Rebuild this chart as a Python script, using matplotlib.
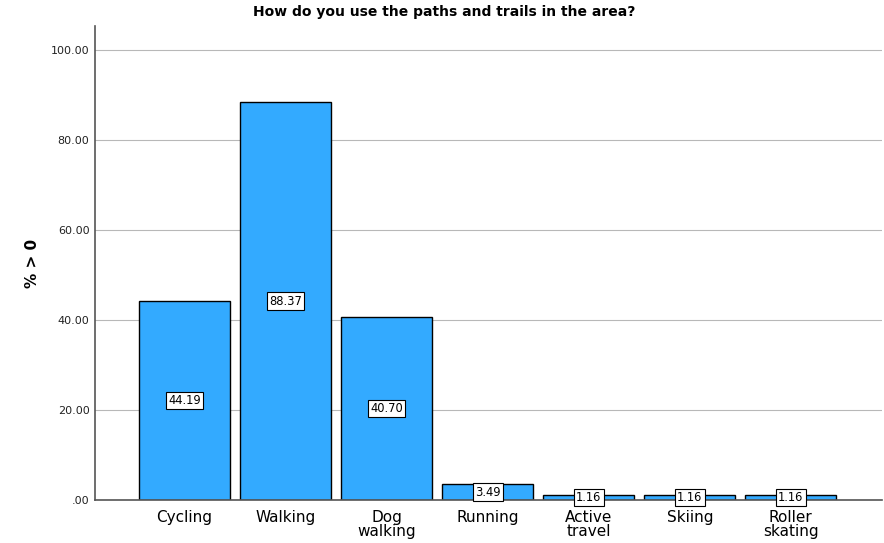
import numpy as np
import matplotlib.pyplot as plt

categories = ['Cycling', 'Walking', 'Dog\nwalking', 'Running', 'Active\ntravel', 'Skiing', 'Roller\nskating']
values = [44.19, 88.37, 40.70, 3.49, 1.16, 1.16, 1.16]
yticks = [0, 20, 40, 60, 80, 100]
ytick_labels = ['.00', '20.00', '40.00', '60.00', '80.00', '100.00']

fig = plt.figure(figsize=(8.84, 5.43), dpi=100)
ax = fig.add_axes([0.1075, 0.0792, 0.890, 0.8729])

x = np.arange(len(categories))
ax.set_axisbelow(True)
ax.yaxis.grid(True, color='#b8b8b8', linewidth=0.8)
ax.bar(x, values, width=0.9, color='#33aaff', edgecolor='black', linewidth=1.0)

for xi, v in zip(x, values):
    ax.text(xi, v / 2, '%.2f' % v, ha='center', va='center', fontsize=8.3,
            bbox=dict(boxstyle='square,pad=0.2', facecolor='white', edgecolor='black', linewidth=0.8))

ax.set_xlim(-0.886, 6.9)
ax.set_ylim(0, 105.3)
ax.set_yticks(yticks)
ax.set_yticklabels(ytick_labels, fontsize=8, color='#222222')
ax.set_xticks(x)
ax.set_xticklabels(categories, fontsize=11, linespacing=0.9)
ax.tick_params(axis='both', length=0)
ax.tick_params(axis='x', pad=7)
ax.tick_params(axis='y', pad=4)

for s in ['top', 'right']:
    ax.spines[s].set_visible(False)
for s in ['left', 'bottom']:
    ax.spines[s].set_color('#555555')
    ax.spines[s].set_linewidth(1.2)

ax.set_ylabel('% > 0', fontsize=11, fontweight='bold', labelpad=8)
fig.text(0.503, 0.977, 'How do you use the paths and trails in the area?', ha='center', va='center',
         fontsize=10, fontweight='bold')

fig.savefig('out.png', dpi=100)
